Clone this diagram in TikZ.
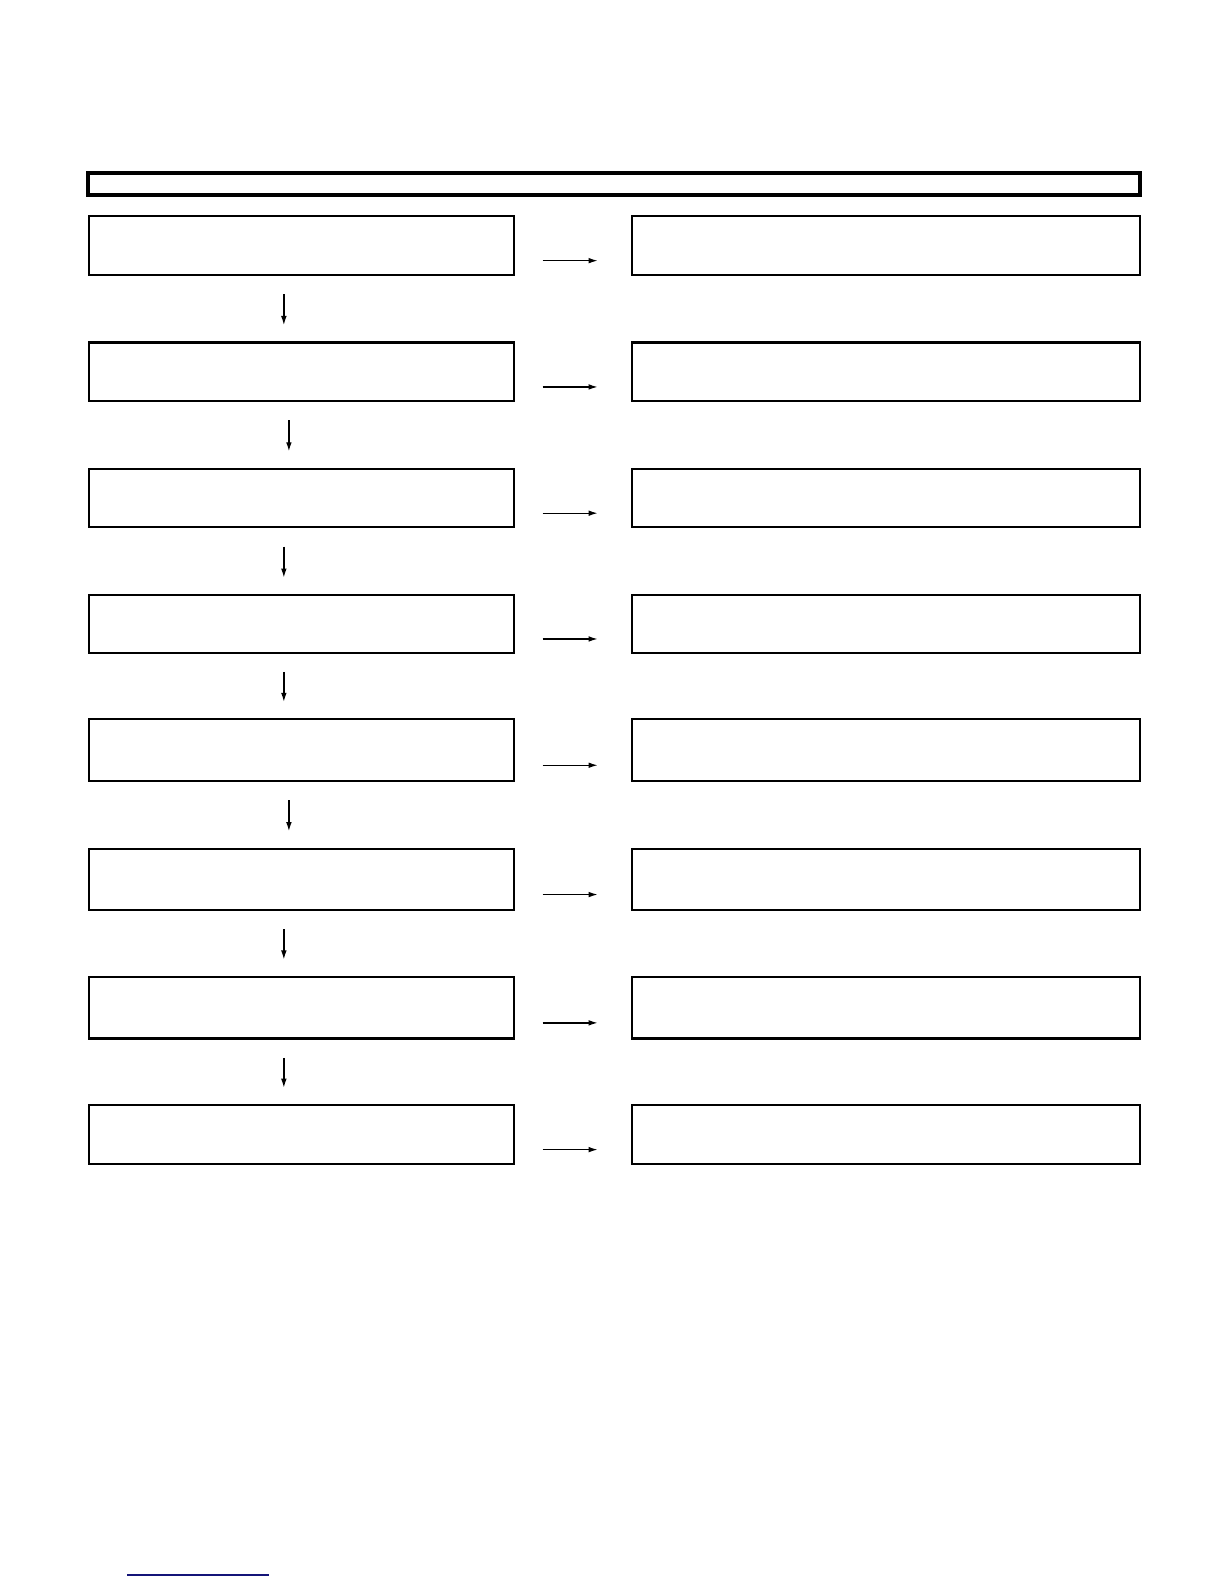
\documentclass[tikz,border=0pt]{standalone}
\usepackage{tikz}
\usetikzlibrary{arrows.meta}
\definecolor{navy}{RGB}{20,20,120}
\begin{document}
\begin{tikzpicture}[x=0.01cm,y=-0.01cm]
                \tikzstyle{titlebar}=[rectangle, draw=black, line width=1.1pt, minimum width=10.41cm, minimum height=0.22cm, inner sep=0pt]
                \tikzstyle{leftbox}=[rectangle, draw=black, line width=0.6pt, minimum width=4.21cm, minimum height=0.58cm, inner sep=0pt]
                \tikzstyle{rightbox}=[rectangle, draw=black, line width=0.6pt, minimum width=5.02cm, minimum height=0.58cm, inner sep=0pt]
                \tikzstyle{flow} = [draw, line width=0.4pt, -{Latex[length=2.6pt, width=1.6pt]}]

                \useasboundingbox (0,0) rectangle (1212,1568);

                \node[titlebar] (title) at (607.5,182) {};

                \node[leftbox] (l1) at (298.5,243) {};
                \node[leftbox] (l2) at (298.5,368) {};
                \node[leftbox] (l3) at (298.5,493) {};
                \node[leftbox, minimum height=0.57cm] (l4) at (298.5,617.5) {};
                \node[leftbox, minimum height=0.61cm] (l5) at (298.5,742.5) {};
                \node[leftbox, minimum height=0.61cm] (l6) at (298.5,870.5) {};
                \node[leftbox, minimum height=0.61cm] (l7) at (298.5,997.5) {};
                \node[leftbox] (l8) at (298.5,1123) {};

                \node[rightbox] (r1) at (877,243) {};
                \node[rightbox] (r2) at (877,368) {};
                \node[rightbox] (r3) at (877,493) {};
                \node[rightbox, minimum height=0.57cm] (r4) at (877,617.5) {};
                \node[rightbox, minimum height=0.61cm] (r5) at (877,742.5) {};
                \node[rightbox, minimum height=0.61cm] (r6) at (877,870.5) {};
                \node[rightbox, minimum height=0.61cm] (r7) at (877,997.5) {};
                \node[rightbox] (r8) at (877,1123) {};

                \foreach \i in {1,...,8}
                \path[flow, shorten <=0.27cm, shorten >=0.33cm] ([yshift=-0.15cm]l\i.east) -- ([yshift=-0.15cm]r\i.west);

                \foreach \source/ \dest/ \dx in {l1/l2/-0.175, l2/l3/-0.125, l3/l4/-0.175, l4/l5/-0.175, l5/l6/-0.125, l6/l7/-0.175, l7/l8/-0.175}
                \path[flow, shorten <=0.18cm, shorten >=0.16cm] ([xshift=\dx cm]\source.south) -- ([xshift=\dx cm]\dest.north);

                \draw[navy, line width=0.6pt] (126,1559) -- (266,1559);
            \end{tikzpicture}
\end{document}
